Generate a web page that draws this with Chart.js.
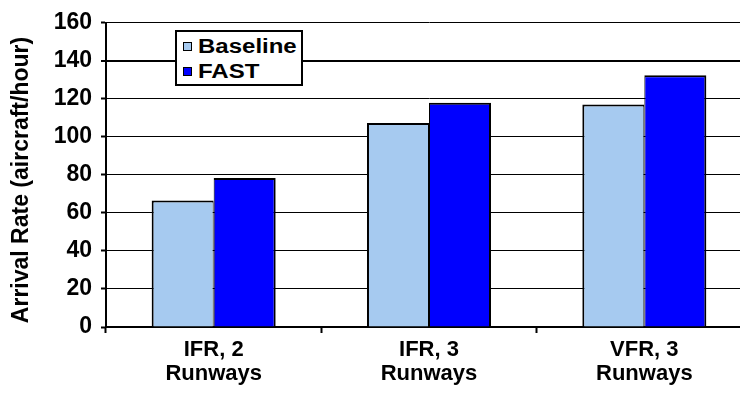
<!DOCTYPE html>
<html>
<head>
<meta charset="utf-8">
<script src="https://cdn.jsdelivr.net/npm/chart.js@4.4.1/dist/chart.umd.min.js"></script>
<style>
  html, body { margin: 0; padding: 0; background: #fff; overflow: hidden; }
  #wrap { position: relative; width: 740px; height: 395px; overflow: hidden; }
  #legend {
    position: absolute; left: 175px; top: 30px; width: 128px; height: 56px;
    box-sizing: border-box; border: 2px solid #000; background: #fff;
    font: bold 20px "Liberation Sans", Arial, sans-serif; color: #000;
  }
  #legend .item { position: absolute; left: 6px; height: 24px; line-height: 24px; white-space: nowrap; }
  #legend .box { display: inline-block; width: 7px; height: 7px; border: 1px solid #000; margin-right: 6px; vertical-align: 2px; }
  #legend .txt { display: inline-block; transform: scaleX(1.2); transform-origin: left center; }
</style>
</head>
<body>
<div id="wrap">
  <canvas id="chart" width="752" height="395"></canvas>
  <div id="legend"></div>
</div>
<script>
// 데이터
const categories = [["IFR, 2", "Runways"], ["IFR, 3", "Runways"], ["VFR, 3", "Runways"]];
const baseline = [66.6, 107.3, 117];
const fast = [78.4, 118, 132.4];
const seriesNames = ["Baseline", "FAST"];
const seriesColors = ["#A6CAF0", "#0000FF"];
const yTitle = "Arrival Rate (aircraft/hour)";

const font = "'Liberation Sans', Arial, sans-serif";

// y축 제목을 직접 그리는 플러그인
const yTitlePlugin = {
  id: "yTitle",
  afterDraw(chart) {
    const c = chart.ctx;
    c.save();
    c.translate(22, 180);
    c.rotate(-Math.PI / 2);
    c.font = "bold 23px " + font;
    c.fillStyle = "#000";
    c.textAlign = "center";
    c.textBaseline = "middle";
    c.fillText(yTitle, 0, 0);
    c.restore();
  },
};

const ctx = document.getElementById("chart").getContext("2d");
const myChart = new Chart(ctx, {
  type: "bar",
  data: {
    labels: categories,
    datasets: [
      {
        label: seriesNames[0],
        data: baseline,
        backgroundColor: seriesColors[0],
        borderWidth: { top: 2, left: 2, right: 1, bottom: 0 },
      },
      {
        label: seriesNames[1],
        data: fast,
        backgroundColor: seriesColors[1],
        borderWidth: { top: 2, left: 1, right: 2, bottom: 0 },
      },
    ],
  },
  plugins: [yTitlePlugin],
  options: {
    responsive: false,
    animation: false,
    devicePixelRatio: 1,
    layout: { padding: { top: 19, left: 0, right: 0, bottom: 0 } },
    datasets: {
      bar: {
        categoryPercentage: 0.576,
        barPercentage: 1,
        borderColor: "#000",
      },
    },
    plugins: { legend: { display: false }, tooltip: { enabled: false } },
    scales: {
      x: {
        grid: {
          drawOnChartArea: false,
          tickLength: 6,
          tickColor: "#000",
          tickWidth: 2,
        },
        border: { display: true, color: "#000", width: 2 },
        ticks: {
          color: "#000",
          padding: 5,
          font: { family: font, size: 22, weight: "bold", lineHeight: 1.1 },
          maxRotation: 0,
        },
        afterFit: (scale) => { scale.height = 68; },
      },
      y: {
        min: 0,
        max: 160,
        ticks: {
          stepSize: 20,
          color: "#000",
          padding: 9,
          font: { family: font, size: 23, weight: "bold" },
        },
        grid: {
          color: "#000",
          lineWidth: (c) => (c.tick && c.tick.value === 140 ? 2 : 1),
          tickLength: 5,
          tickColor: "#000",
          tickWidth: 2,
        },
        border: { display: true, color: "#000", width: 2 },
        afterFit: (scale) => { scale.width = 106; },
      },
    },
  },
});

// 범례 만들기
const legend = document.getElementById("legend");
myChart.data.datasets.forEach((ds, i) => {
  const item = document.createElement("div");
  item.className = "item";
  item.style.top = (2 + i * 25) + "px";
  item.innerHTML = `<span class="box" style="background:${ds.backgroundColor}"></span><span class="txt">${ds.label}</span>`;
  legend.appendChild(item);
});
</script>
</body>
</html>
